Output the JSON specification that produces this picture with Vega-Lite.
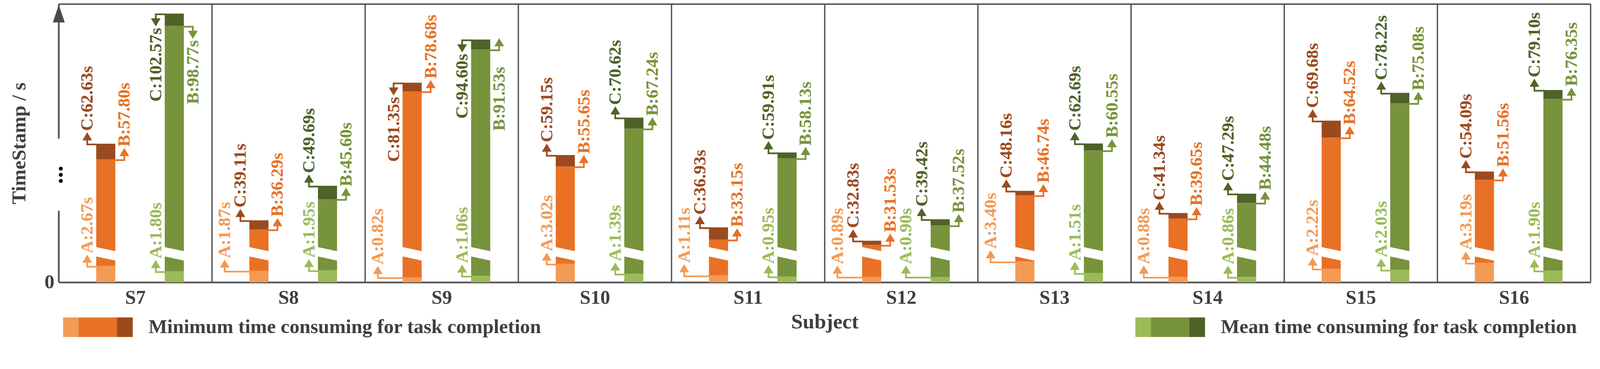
{
  "$schema": "https://vega.github.io/schema/vega-lite/v6.json",
  "width": 3921.5,
  "height": 712.4,
  "autosize": {"type": "none"},
  "padding": {"left": 150.5, "top": 10.55, "right": 29.7, "bottom": 183.1},
  "background": "white",
  "config": {
    "view": {"stroke": null},
    "text": {"font": "Liberation Serif"},
    "axis": {"labelFont": "Liberation Serif", "titleFont": "Liberation Serif"}
  },
  "datasets": {
    "bars": [
      {"Subject": "S7", "series": "min", "A": 2.67, "B": 57.80, "C": 62.63},
      {"Subject": "S7", "series": "mean", "A": 1.80, "B": 98.77, "C": 102.57},
      {"Subject": "S8", "series": "min", "A": 1.87, "B": 36.29, "C": 39.11},
      {"Subject": "S8", "series": "mean", "A": 1.95, "B": 45.60, "C": 49.69},
      {"Subject": "S9", "series": "min", "A": 0.82, "B": 78.68, "C": 81.35},
      {"Subject": "S9", "series": "mean", "A": 1.06, "B": 91.53, "C": 94.60},
      {"Subject": "S10", "series": "min", "A": 3.02, "B": 55.65, "C": 59.15},
      {"Subject": "S10", "series": "mean", "A": 1.39, "B": 67.24, "C": 70.62},
      {"Subject": "S11", "series": "min", "A": 1.11, "B": 33.15, "C": 36.93},
      {"Subject": "S11", "series": "mean", "A": 0.95, "B": 58.13, "C": 59.91},
      {"Subject": "S12", "series": "min", "A": 0.89, "B": 31.53, "C": 32.83},
      {"Subject": "S12", "series": "mean", "A": 0.90, "B": 37.52, "C": 39.42},
      {"Subject": "S13", "series": "min", "A": 3.40, "B": 46.74, "C": 48.16},
      {"Subject": "S13", "series": "mean", "A": 1.51, "B": 60.55, "C": 62.69},
      {"Subject": "S14", "series": "min", "A": 0.88, "B": 39.65, "C": 41.34},
      {"Subject": "S14", "series": "mean", "A": 0.86, "B": 44.48, "C": 47.29},
      {"Subject": "S15", "series": "min", "A": 2.22, "B": 64.52, "C": 69.68},
      {"Subject": "S15", "series": "mean", "A": 2.03, "B": 75.08, "C": 78.22},
      {"Subject": "S16", "series": "min", "A": 3.19, "B": 51.56, "C": 54.09},
      {"Subject": "S16", "series": "mean", "A": 1.90, "B": 76.35, "C": 79.10}
    ],
    "legend": [
      {"series": "min", "phases": ["A", "B", "C"], "text": "Minimum time consuming for task completion"},
      {"series": "mean", "phases": ["A", "B", "C"], "text": "Mean time consuming for task completion"}
    ]
  },
  "layer": [
    {
      "data": {"name": "bars"},
      "transform": [
        {"fold": ["A", "B", "C"], "as": ["phase", "t"]},
        {"calculate": "datum.phase == 'A' ? 0 : (datum.phase == 'B' ? datum.A : datum.B)", "as": "t0"},
        {"calculate": "datum.series + '-' + datum.phase", "as": "key"}
      ],
      "mark": {"type": "bar"},
      "encoding": {
        "x": {
          "field": "Subject", "type": "nominal", "title": "Subject",
          "scale": {"domain": ["S7", "S8", "S9", "S10", "S11", "S12", "S13", "S14", "S15", "S16"], "paddingInner": 0, "paddingOuter": 0},
          "axis": {
            "labelFontSize": 49.86, "labelFontWeight": "bold", "labelColor": "#3f3f3f", "labelPadding": 15.3, "labelAngle": 0,
            "ticks": false, "grid": false, "domainColor": "#505050", "domainWidth": 4.3,
            "titleFontSize": 53.7, "titleFontWeight": "bold", "titleColor": "#3f3f3f", "titlePadding": 11.5
          }
        },
        "xOffset": {"field": "series", "type": "nominal", "scale": {"domain": ["min", "mean"], "paddingInner": 0.7213, "paddingOuter": 0.478, "align": 0.571}},
        "y": {
          "field": "t", "type": "quantitative", "title": "TimeStamp / s",
          "scale": {"domain": [0, 3.5, 30.07, 105.47], "range": [{"expr": "height"}, {"expr": "height - 54.65"}, {"expr": "height - 83.4"}, 0], "nice": false, "zero": false},
          "axis": {
            "values": [0], "domain": false, "ticks": false, "grid": false,
            "labelFontSize": 50.8, "labelFontWeight": "bold", "labelColor": "#3f3f3f", "labelPadding": 11.5,
            "titleFontSize": 50.8, "titleFontWeight": "bold", "titleColor": "#3f3f3f", "titlePadding": 38.35
          }
        },
        "y2": {"field": "t0"},
        "color": {
          "field": "key", "type": "nominal", "legend": null,
          "scale": {"domain": ["min-A", "min-B", "min-C", "mean-A", "mean-B", "mean-C"], "range": ["#F39A55", "#E87125", "#9B4A1F", "#9BBB59", "#77933C", "#4F6228"]}
        }
      }
    },
    {
      "data": {"name": "bars"},
      "mark": {"type": "point", "shape": "M -28 -18.5 L 28 -6.5 L 28 18.5 L -28 6.5 Z", "size": 3.677, "filled": true, "fill": "white", "strokeWidth": 0, "opacity": 1},
      "encoding": {
        "x": {"field": "Subject", "type": "nominal", "title": "Subject", "scale": {"domain": ["S7", "S8", "S9", "S10", "S11", "S12", "S13", "S14", "S15", "S16"], "paddingInner": 0, "paddingOuter": 0}},
        "xOffset": {"field": "series", "type": "nominal", "scale": {"domain": ["min", "mean"], "paddingInner": 0.7213, "paddingOuter": 0.478, "align": 0.571}},
        "y": {"datum": 20.33, "type": "quantitative", "title": "TimeStamp / s", "scale": {"domain": [0, 3.5, 30.07, 105.47], "range": [{"expr": "height"}, {"expr": "height - 54.65"}, {"expr": "height - 83.4"}, 0], "nice": false, "zero": false}}
      }
    },
    {
      "data": {"name": "bars"},
      "transform": [
        {"fold": ["A", "B", "C"], "as": ["phase", "t"]},
        {"calculate": "datum.phase + ':' + format(datum.t, '.2f') + 's'", "as": "label"},
        {"calculate": "datum.series + '-' + datum.phase", "as": "key"},
        {"calculate": "datum.phase == 'A' ? (((datum.series == 'min' && indexof(['S8','S9','S11','S12','S13','S14'], datum.Subject) >= 0) || (datum.series == 'mean' && datum.Subject == 'S12')) ? 'Afar' : 'Anear') : (datum.phase == 'B' ? ((datum.Subject == 'S7' && datum.series == 'mean') ? 'Bdown' : ((datum.Subject == 'S9' && datum.series == 'mean') ? 'Bside' : 'Bup')) : (((datum.Subject == 'S7' && datum.series == 'mean') || datum.Subject == 'S9') ? 'Cdown' : 'Cup'))", "as": "place"}
      ],
      "encoding": {
        "x": {"field": "Subject", "type": "nominal", "title": "Subject", "scale": {"domain": ["S7", "S8", "S9", "S10", "S11", "S12", "S13", "S14", "S15", "S16"], "paddingInner": 0, "paddingOuter": 0}},
        "xOffset": {"field": "series", "type": "nominal", "scale": {"domain": ["min", "mean"], "paddingInner": 0.7213, "paddingOuter": 0.478, "align": 0.571}},
        "y": {"field": "t", "type": "quantitative", "title": "TimeStamp / s", "scale": {"domain": [0, 3.5, 30.07, 105.47], "range": [{"expr": "height"}, {"expr": "height - 54.65"}, {"expr": "height - 83.4"}, 0], "nice": false, "zero": false}}
      },
      "layer": [
        {
          "transform": [{"filter": "datum.place == 'Anear' || datum.place == 'Cup'"}],
          "mark": {"type": "text", "angle": 270, "align": "left", "baseline": "middle", "dx": 32.6, "dy": -47.46, "fontSize": 45.06, "fontWeight": "bold"},
          "encoding": {
            "text": {"field": "label"},
            "color": {"field": "key", "type": "nominal", "legend": null, "scale": {"domain": ["min-A", "min-B", "min-C", "mean-A", "mean-B", "mean-C"], "range": ["#F39A55", "#E87125", "#9B4A1F", "#9BBB59", "#77933C", "#4F6228"]}}
          }
        },
        {
          "transform": [{"filter": "datum.place == 'Afar'"}],
          "mark": {"type": "text", "angle": 270, "align": "left", "baseline": "middle", "dx": 32.6, "dy": -87.73, "fontSize": 45.06, "fontWeight": "bold"},
          "encoding": {
            "text": {"field": "label"},
            "color": {"field": "key", "type": "nominal", "legend": null, "scale": {"domain": ["min-A", "min-B", "min-C", "mean-A", "mean-B", "mean-C"], "range": ["#F39A55", "#E87125", "#9B4A1F", "#9BBB59", "#77933C", "#4F6228"]}}
          }
        },
        {
          "transform": [{"filter": "datum.place == 'Bup'"}],
          "mark": {"type": "text", "angle": 270, "align": "left", "baseline": "middle", "dx": 32.6, "dy": 47.46, "fontSize": 45.06, "fontWeight": "bold"},
          "encoding": {
            "text": {"field": "label"},
            "color": {"field": "key", "type": "nominal", "legend": null, "scale": {"domain": ["min-A", "min-B", "min-C", "mean-A", "mean-B", "mean-C"], "range": ["#F39A55", "#E87125", "#9B4A1F", "#9BBB59", "#77933C", "#4F6228"]}}
          }
        },
        {
          "transform": [{"filter": "datum.place == 'Cdown'"}],
          "mark": {"type": "text", "angle": 270, "align": "right", "baseline": "middle", "dx": -36.43, "dy": -47.46, "fontSize": 45.06, "fontWeight": "bold"},
          "encoding": {
            "text": {"field": "label"},
            "color": {"field": "key", "type": "nominal", "legend": null, "scale": {"domain": ["min-A", "min-B", "min-C", "mean-A", "mean-B", "mean-C"], "range": ["#F39A55", "#E87125", "#9B4A1F", "#9BBB59", "#77933C", "#4F6228"]}}
          }
        },
        {
          "transform": [{"filter": "datum.place == 'Bdown'"}],
          "mark": {"type": "text", "angle": 270, "align": "right", "baseline": "middle", "dx": -36.43, "dy": 47.46, "fontSize": 45.06, "fontWeight": "bold"},
          "encoding": {
            "text": {"field": "label"},
            "color": {"field": "key", "type": "nominal", "legend": null, "scale": {"domain": ["min-A", "min-B", "min-C", "mean-A", "mean-B", "mean-C"], "range": ["#F39A55", "#E87125", "#9B4A1F", "#9BBB59", "#77933C", "#4F6228"]}}
          }
        },
        {
          "transform": [{"filter": "datum.place == 'Bside'"}],
          "mark": {"type": "text", "angle": 270, "align": "right", "baseline": "middle", "dx": -44.1, "dy": 47.46, "fontSize": 45.06, "fontWeight": "bold"},
          "encoding": {
            "text": {"field": "label"},
            "color": {"field": "key", "type": "nominal", "legend": null, "scale": {"domain": ["min-A", "min-B", "min-C", "mean-A", "mean-B", "mean-C"], "range": ["#F39A55", "#E87125", "#9B4A1F", "#9BBB59", "#77933C", "#4F6228"]}}
          }
        },
        {
          "transform": [{"filter": "datum.place == 'Anear' || datum.place == 'Cup'"}],
          "mark": {"type": "point", "shape": "M -25.5 2 L -49.5 2 M -49.5 2 L -49.5 -11 M -58.5 -11 L -40.5 -11 L -49.5 -26 Z", "size": 3.677, "filled": true, "strokeWidth": 4.3, "strokeCap": "square", "opacity": 1},
          "encoding": {
            "fill": {"field": "key", "type": "nominal", "legend": null, "scale": {"domain": ["min-A", "min-B", "min-C", "mean-A", "mean-B", "mean-C"], "range": ["#F39A55", "#E87125", "#9B4A1F", "#9BBB59", "#77933C", "#4F6228"]}},
            "stroke": {"field": "key", "type": "nominal", "legend": null, "scale": {"domain": ["min-A", "min-B", "min-C", "mean-A", "mean-B", "mean-C"], "range": ["#F39A55", "#E87125", "#9B4A1F", "#9BBB59", "#77933C", "#4F6228"]}}
          }
        },
        {
          "transform": [{"filter": "datum.place == 'Afar'"}],
          "mark": {"type": "point", "shape": "M -25.5 2 L -91.5 2 M -91.5 2 L -91.5 -11 M -100.5 -11 L -82.5 -11 L -91.5 -26 Z", "size": 3.677, "filled": true, "strokeWidth": 4.3, "strokeCap": "square", "opacity": 1},
          "encoding": {
            "fill": {"field": "key", "type": "nominal", "legend": null, "scale": {"domain": ["min-A", "min-B", "min-C", "mean-A", "mean-B", "mean-C"], "range": ["#F39A55", "#E87125", "#9B4A1F", "#9BBB59", "#77933C", "#4F6228"]}},
            "stroke": {"field": "key", "type": "nominal", "legend": null, "scale": {"domain": ["min-A", "min-B", "min-C", "mean-A", "mean-B", "mean-C"], "range": ["#F39A55", "#E87125", "#9B4A1F", "#9BBB59", "#77933C", "#4F6228"]}}
          }
        },
        {
          "transform": [{"filter": "datum.place == 'Bup' || datum.place == 'Bside'"}],
          "mark": {"type": "point", "shape": "M 25.5 2 L 49.5 2 M 49.5 2 L 49.5 -11 M 40.5 -11 L 58.5 -11 L 49.5 -26 Z", "size": 3.677, "filled": true, "strokeWidth": 4.3, "strokeCap": "square", "opacity": 1},
          "encoding": {
            "fill": {"field": "key", "type": "nominal", "legend": null, "scale": {"domain": ["min-A", "min-B", "min-C", "mean-A", "mean-B", "mean-C"], "range": ["#F39A55", "#E87125", "#9B4A1F", "#9BBB59", "#77933C", "#4F6228"]}},
            "stroke": {"field": "key", "type": "nominal", "legend": null, "scale": {"domain": ["min-A", "min-B", "min-C", "mean-A", "mean-B", "mean-C"], "range": ["#F39A55", "#E87125", "#9B4A1F", "#9BBB59", "#77933C", "#4F6228"]}}
          }
        },
        {
          "transform": [{"filter": "datum.place == 'Cdown'"}],
          "mark": {"type": "point", "shape": "M -25.5 2 L -49.5 2 M -49.5 2 L -49.5 15 M -58.5 15 L -40.5 15 L -49.5 30 Z", "size": 3.677, "filled": true, "strokeWidth": 4.3, "strokeCap": "square", "opacity": 1},
          "encoding": {
            "fill": {"field": "key", "type": "nominal", "legend": null, "scale": {"domain": ["min-A", "min-B", "min-C", "mean-A", "mean-B", "mean-C"], "range": ["#F39A55", "#E87125", "#9B4A1F", "#9BBB59", "#77933C", "#4F6228"]}},
            "stroke": {"field": "key", "type": "nominal", "legend": null, "scale": {"domain": ["min-A", "min-B", "min-C", "mean-A", "mean-B", "mean-C"], "range": ["#F39A55", "#E87125", "#9B4A1F", "#9BBB59", "#77933C", "#4F6228"]}}
          }
        },
        {
          "transform": [{"filter": "datum.place == 'Bdown'"}],
          "mark": {"type": "point", "shape": "M 25.5 2 L 49.5 2 M 49.5 2 L 49.5 15 M 40.5 15 L 58.5 15 L 49.5 30 Z", "size": 3.677, "filled": true, "strokeWidth": 4.3, "strokeCap": "square", "opacity": 1},
          "encoding": {
            "fill": {"field": "key", "type": "nominal", "legend": null, "scale": {"domain": ["min-A", "min-B", "min-C", "mean-A", "mean-B", "mean-C"], "range": ["#F39A55", "#E87125", "#9B4A1F", "#9BBB59", "#77933C", "#4F6228"]}},
            "stroke": {"field": "key", "type": "nominal", "legend": null, "scale": {"domain": ["min-A", "min-B", "min-C", "mean-A", "mean-B", "mean-C"], "range": ["#F39A55", "#E87125", "#9B4A1F", "#9BBB59", "#77933C", "#4F6228"]}}
          }
        }
      ]
    },
    {
      "data": {"name": "bars"},
      "transform": [{"filter": "datum.series == 'min'"}],
      "mark": {"type": "rule", "color": "#505050", "strokeWidth": 3.36},
      "encoding": {
        "x": {"field": "Subject", "type": "nominal", "bandPosition": 1, "title": "Subject", "scale": {"domain": ["S7", "S8", "S9", "S10", "S11", "S12", "S13", "S14", "S15", "S16"], "paddingInner": 0, "paddingOuter": 0}}
      }
    },
    {
      "data": {"values": [{}]},
      "mark": {"type": "rule", "color": "#505050", "strokeWidth": 3.84},
      "encoding": {
        "y": {"datum": 105.47, "type": "quantitative", "title": "TimeStamp / s", "scale": {"domain": [0, 3.5, 30.07, 105.47], "range": [{"expr": "height"}, {"expr": "height - 54.65"}, {"expr": "height - 83.4"}, 0], "nice": false, "zero": false}}
      }
    },
    {
      "data": {"name": "bars"},
      "transform": [{"filter": "datum.Subject == 'S7' && datum.series == 'min'"}],
      "encoding": {
        "x": {"field": "Subject", "type": "nominal", "bandPosition": 0, "title": "Subject", "scale": {"domain": ["S7", "S8", "S9", "S10", "S11", "S12", "S13", "S14", "S15", "S16"], "paddingInner": 0, "paddingOuter": 0}}
      },
      "layer": [
        {
          "mark": {"type": "rule", "color": "#505050", "strokeWidth": 4.3},
          "encoding": {
            "y": {"datum": 0, "type": "quantitative", "title": "TimeStamp / s", "scale": {"domain": [0, 3.5, 30.07, 105.47], "range": [{"expr": "height"}, {"expr": "height - 54.65"}, {"expr": "height - 83.4"}, 0], "nice": false, "zero": false}},
            "y2": {"datum": 42.02}
          }
        },
        {
          "mark": {"type": "rule", "color": "#505050", "strokeWidth": 4.3},
          "encoding": {
            "y": {"datum": 64.2, "type": "quantitative", "title": "TimeStamp / s", "scale": {"domain": [0, 3.5, 30.07, 105.47], "range": [{"expr": "height"}, {"expr": "height - 54.65"}, {"expr": "height - 83.4"}, 0], "nice": false, "zero": false}},
            "y2": {"datum": 105.47}
          }
        },
        {
          "mark": {"type": "point", "shape": "M 0 -23.5 L 16 23.5 L -16 23.5 Z", "size": 3.677, "filled": true, "fill": "#4a4a4a", "strokeWidth": 0, "opacity": 1},
          "encoding": {
            "y": {"datum": 102.54, "type": "quantitative", "title": "TimeStamp / s", "scale": {"domain": [0, 3.5, 30.07, 105.47], "range": [{"expr": "height"}, {"expr": "height - 54.65"}, {"expr": "height - 83.4"}, 0], "nice": false, "zero": false}}
          }
        },
        {
          "mark": {"type": "text", "text": "...", "angle": 90, "align": "center", "baseline": "alphabetic", "fontSize": 63.3, "fontWeight": "bold", "color": "#111111"},
          "encoding": {
            "y": {"datum": 53.07, "type": "quantitative", "title": "TimeStamp / s", "scale": {"domain": [0, 3.5, 30.07, 105.47], "range": [{"expr": "height"}, {"expr": "height - 54.65"}, {"expr": "height - 83.4"}, 0], "nice": false, "zero": false}}
          }
        }
      ]
    },
    {
      "data": {"name": "legend"},
      "transform": [
        {"calculate": "datum.series == 'min' ? 'S7' : 'S14'", "as": "anchor"}
      ],
      "encoding": {
        "x": {"field": "anchor", "type": "nominal", "title": "Subject", "scale": {"domain": ["S7", "S8", "S9", "S10", "S11", "S12", "S13", "S14", "S15", "S16"], "paddingInner": 0, "paddingOuter": 0}},
        "y": {"datum": 0, "type": "quantitative", "title": "TimeStamp / s", "scale": {"domain": [0, 3.5, 30.07, 105.47], "range": [{"expr": "height"}, {"expr": "height - 54.65"}, {"expr": "height - 83.4"}, 0], "nice": false, "zero": false}}
      },
      "layer": [
        {
          "transform": [
            {"flatten": ["phases"], "as": ["phase"]},
            {"calculate": "datum.series + '-' + datum.phase", "as": "key"}
          ],
          "mark": {"type": "point", "size": 3.677, "filled": true, "strokeWidth": 0, "opacity": 1, "yOffset": 115.06},
          "encoding": {
            "shape": {
              "field": "phase", "type": "nominal", "legend": null,
              "scale": {"domain": ["A", "B", "C"], "range": ["M -193 -26 L -151 -26 L -151 26 L -193 26 Z", "M -151.5 -26 L -48.5 -26 L -48.5 26 L -151.5 26 Z", "M -49 -26 L -7 -26 L -7 26 L -49 26 Z"]}
            },
            "fill": {"field": "key", "type": "nominal", "legend": null, "scale": {"domain": ["min-A", "min-B", "min-C", "mean-A", "mean-B", "mean-C"], "range": ["#F39A55", "#E87125", "#9B4A1F", "#9BBB59", "#77933C", "#4F6228"]}}
          }
        },
        {
          "mark": {"type": "text", "align": "left", "baseline": "alphabetic", "dx": 33.56, "yOffset": 130.4, "fontSize": 50.8, "fontWeight": "bold", "color": "#3f3f3f"},
          "encoding": {
            "text": {"field": "text"}
          }
        }
      ]
    }
  ]
}
